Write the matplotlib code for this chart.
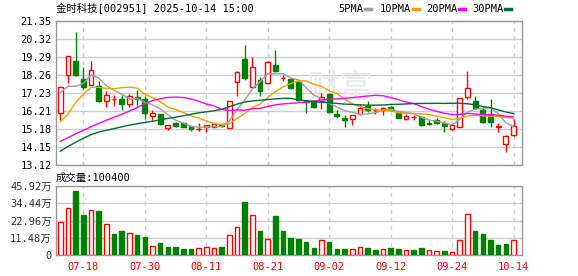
import matplotlib
matplotlib.use("Agg")
import matplotlib.pyplot as plt
import numpy as np
import pandas as pd
from matplotlib.lines import Line2D

plt.rcParams["font.family"] = ["DejaVu Sans Mono", "Noto Sans CJK SC"]

STOCK = "金时科技[002951]"
STAMP = "2025-10-14 15:00"

# daily candles, 2025-07-15 .. 2025-10-14
opens = [16.12, 18.28, 19.04, 18.05, 17.71, 17.66, 16.77, 16.90, 16.88, 16.58,
         17.03, 16.92, 15.90, 16.01, 15.25, 15.50, 15.52, 15.33, 15.16, 15.27,
         15.31, 15.44, 15.23, 17.88, 19.15, 17.60, 17.98, 17.79, 18.85, 18.09,
         18.03, 17.86, 16.78, 16.75, 16.76, 17.15, 16.04, 15.80, 15.73, 16.01,
         16.52, 16.24, 16.24, 16.42, 16.10, 15.76, 15.86, 15.84, 15.50, 15.67,
         15.52, 15.16, 15.29, 17.03, 16.80, 16.24, 16.01, 15.32, 14.30, 14.82]
highs = [17.62, 19.36, 20.71, 18.70, 19.04, 17.92, 17.35, 17.13, 17.13, 17.17,
         17.41, 17.07, 16.26, 16.03, 15.42, 15.55, 15.54, 15.36, 15.50, 15.42,
         15.50, 15.46, 16.77, 18.47, 19.95, 19.27, 18.13, 19.04, 19.72, 18.26,
         18.10, 17.90, 16.82, 16.78, 17.22, 17.22, 16.24, 15.99, 15.97, 16.58,
         16.80, 16.38, 16.46, 16.50, 16.17, 16.04, 15.99, 15.91, 15.67, 15.78,
         15.63, 15.40, 16.96, 18.47, 17.09, 16.42, 16.90, 15.52, 14.81, 15.76]
lows = [15.71, 17.83, 18.20, 17.45, 17.68, 16.73, 16.41, 16.50, 16.27, 16.46,
        16.50, 15.74, 15.71, 15.40, 15.14, 15.27, 15.29, 15.08, 15.08, 14.99,
        15.29, 15.27, 15.21, 17.05, 17.97, 17.55, 17.09, 17.77, 18.41, 17.90,
        17.45, 16.80, 16.12, 16.38, 16.33, 16.10, 15.80, 15.29, 15.38, 15.99,
        16.14, 16.04, 15.99, 16.20, 15.78, 15.67, 15.67, 15.36, 15.38, 15.45,
        15.00, 15.14, 15.27, 16.90, 16.33, 15.52, 15.29, 15.00, 13.87, 14.80]
closes = [17.60, 19.34, 18.24, 17.58, 18.53, 16.75, 17.13, 16.90, 16.58, 17.09,
          16.92, 16.07, 16.12, 15.44, 15.40, 15.35, 15.31, 15.16, 15.20, 15.40,
          15.48, 15.33, 16.75, 18.45, 18.07, 18.74, 17.37, 19.02, 18.47, 18.09,
          17.50, 16.85, 16.72, 16.46, 16.99, 16.14, 15.90, 15.67, 15.95, 16.38,
          16.29, 16.24, 16.38, 16.24, 15.82, 15.91, 15.86, 15.38, 15.48, 15.52,
          15.33, 15.38, 16.94, 17.50, 16.38, 15.57, 15.55, 15.34, 14.79, 15.33]
volumes = [222000, 313000, 428000, 268000, 299000, 295000, 208000, 142000, 162000, 149000,
           135000, 122000, 60000, 82000, 55000, 55000, 42000, 42000, 47000, 53000,
           47000, 55000, 133000, 186000, 355000, 266000, 162000, 106000, 262000, 162000,
           115000, 109000, 89000, 49000, 100000, 89000, 42000, 42000, 40000, 53000,
           49000, 35000, 40000, 49000, 42000, 33000, 35000, 49000, 33000, 27000,
           29000, 20000, 100000, 275000, 162000, 142000, 102000, 69000, 75000, 100400]

ma5 = [17.25, 17.62, 17.62, 17.78, 18.26, 18.09, 17.65, 17.38, 17.18, 16.89,
       16.92, 16.71, 16.56, 16.33, 15.99, 15.68, 15.52, 15.33, 15.28, 15.28,
       15.31, 15.31, 15.63, 16.28, 16.82, 17.47, 17.88, 18.33, 18.33, 18.34,
       18.09, 17.99, 17.53, 17.12, 16.90, 16.63, 16.44, 16.23, 16.13, 16.01,
       16.04, 16.11, 16.25, 16.31, 16.19, 16.12, 16.04, 15.84, 15.69, 15.63,
       15.51, 15.42, 15.73, 16.13, 16.31, 16.35, 16.39, 16.07, 15.53, 15.32]
ma10 = [15.59, 16.03, 16.69, 17.16, 17.56, 17.56, 17.50, 17.48, 17.54, 17.57,
        17.51, 17.18, 16.97, 16.75, 16.44, 16.30, 16.12, 15.94, 15.81, 15.64,
        15.49, 15.42, 15.48, 15.78, 16.05, 16.39, 16.60, 16.98, 17.31, 17.58,
        17.78, 17.93, 17.93, 17.73, 17.62, 17.36, 17.21, 16.88, 16.63, 16.46,
        16.34, 16.27, 16.24, 16.22, 16.10, 16.08, 16.07, 16.05, 16.00, 15.91,
        15.82, 15.73, 15.79, 15.91, 15.97, 15.93, 15.90, 15.90, 15.83, 15.81]
ma20 = [14.47, 14.68, 14.90, 15.10, 15.30, 15.50, 15.68, 15.85, 16.02, 16.20,
        16.40, 16.62, 16.80, 16.92, 16.98, 17.00, 16.98, 16.90, 16.76, 16.61,
        16.50, 16.30, 16.22, 16.27, 16.25, 16.34, 16.36, 16.46, 16.56, 16.61,
        16.64, 16.68, 16.71, 16.76, 16.84, 16.88, 16.90, 16.93, 16.97, 17.02,
        17.06, 17.10, 17.08, 16.97, 16.86, 16.72, 16.64, 16.46, 16.31, 16.18,
        16.08, 16.00, 16.01, 16.07, 16.03, 16.01, 15.99, 15.97, 15.91, 15.86]
ma30 = [13.90, 14.18, 14.42, 14.65, 14.85, 15.00, 15.10, 15.20, 15.30, 15.40,
        15.48, 15.55, 15.62, 15.70, 15.78, 15.85, 15.93, 16.02, 16.10, 16.16,
        16.22, 16.30, 16.45, 16.60, 16.72, 16.78, 16.82, 16.86, 16.90, 16.93,
        16.93, 16.84, 16.79, 16.76, 16.70, 16.68, 16.64, 16.60, 16.58, 16.56,
        16.54, 16.54, 16.55, 16.58, 16.59, 16.61, 16.63, 16.64, 16.64, 16.65,
        16.64, 16.65, 16.65, 16.62, 16.56, 16.46, 16.40, 16.27, 16.15, 16.06]

price_ticks = [13.12, 14.15, 15.18, 16.21, 17.23, 18.26, 19.29, 20.32, 21.35]
vol_ticks = [0, 114800, 229600, 344400, 459200]

ma_names = ["5PMA", "10PMA", "20PMA", "30PMA"]

# trading days (National Day holiday removed)
dates = pd.bdate_range("2025-07-15", "2025-10-14")
dates = dates[~dates.isin(pd.date_range("2025-10-01", "2025-10-08"))]

UP = "#ff0000"
DOWN = "#008000"
GRID = "#cfcfcf"
EDGE = "#999999"
MA_COLORS = ["#a0a0a0", "#f0a000", "#ff00ff", "#006a3a"]

o = np.array(opens)
h = np.array(highs)
l = np.array(lows)
c = np.array(closes)
v = np.array(volumes)
x = np.arange(len(c))

fig = plt.figure(figsize=(5.78, 2.76), dpi=100)
W, H = 578, 276
ax = fig.add_axes([56 / W, 1 - 165 / H, 466 / W, 144 / H])
axv = fig.add_axes([56 / W, 1 - 255 / H, 466 / W, 69 / H])

tick_pos = list(range(len(x) - 1, -1, -8))[::-1]
tick_lab = [dates[i].strftime("%m-%d") for i in tick_pos]

for a in (ax, axv):
    a.set_xlim(-0.56, 60.1)
    for s in a.spines.values():
        s.set_color(EDGE)
        s.set_linewidth(1.0)
    a.tick_params(length=0, labelsize=7.5, pad=3)
    a.set_axisbelow(True)
    a.yaxis.grid(True, color=GRID, lw=1.0)
    for p in tick_pos:
        a.axvline(p, color=GRID, lw=1.0, ls=(0, (3, 3)), zorder=0.5)
    a.set_xticks(tick_pos)

# price panel
ax.set_ylim(price_ticks[0], price_ticks[-1])
ax.set_yticks(price_ticks)
ax.set_yticklabels([f"{t:.2f}" for t in price_ticks])
ax.set_xticklabels([])

ax.text(0.609, 0.535, "财富", transform=ax.transAxes, ha="center", va="center",
        fontsize=24, color="#ebebeb", family=["Noto Sans CJK SC"], zorder=0.6)

up = c >= o
col = np.where(up, UP, DOWN)
ax.vlines(x, l, h, colors=col, lw=1.0, zorder=2)
body_lo = np.minimum(o, c)
body_h = np.maximum(np.abs(c - o), 0.015)
ax.bar(x, body_h, bottom=body_lo, width=0.62,
       facecolor=np.where(up, "white", DOWN), edgecolor=col, lw=1.0, zorder=3)

for ma, mc in zip([ma5, ma10, ma20, ma30], MA_COLORS):
    ax.plot(x, ma, color=mc, lw=1.0, zorder=4)

# volume panel
prev = np.concatenate([[o[0]], c[:-1]])
vup = c > prev
vcol = np.where(vup, UP, DOWN)
axv.bar(x, v, width=0.6, facecolor=np.where(vup, "white", DOWN),
        edgecolor=vcol, lw=1.0, zorder=3)
axv.set_ylim(0, vol_ticks[-1])
axv.set_yticks(vol_ticks)
axv.set_yticklabels(["0"] + [f"{t / 10000:.2f}万" for t in vol_ticks[1:]],
                    color="#333333")
axv.set_xticklabels(tick_lab, color=UP)
axv.tick_params(axis="x", pad=5)

# header texts
fig.text(56 / W, 1 - 8 / H, f"{STOCK} {STAMP}", fontsize=7.5,
         ha="left", va="center")
fig.text(56 / W, 1 - 178 / H, f"成交量:{volumes[-1]}", fontsize=7.5,
         ha="left", va="center")

leg_x = [338, 380, 426, 472]
for name, mc, lx in zip(ma_names, MA_COLORS, leg_x):
    t = fig.text(lx / W, 1 - 9 / H, name, fontsize=7.5, ha="left", va="center")
    x0 = lx + 6.27 * len(name) + 2
    fig.add_artist(Line2D([x0 / W, (x0 + 6) / W], [1 - 9 / H, 1 - 9 / H],
                          color=mc, lw=2.5, transform=fig.transFigure))

fig.savefig("out.png", dpi=100)
